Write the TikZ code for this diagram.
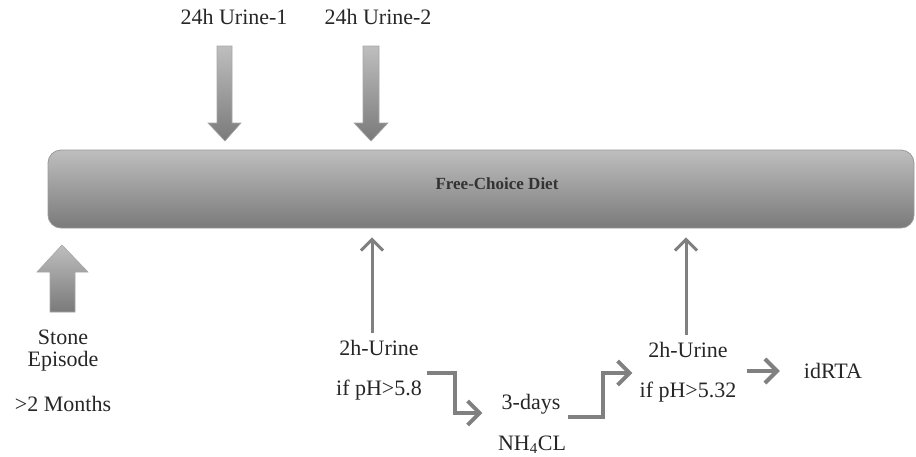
\documentclass[tikz,border=0pt]{standalone}
\usepackage{fontspec}
\setmainfont{Liberation Serif}
\usetikzlibrary{arrows.meta}
\definecolor{arrgray}{RGB}{128,128,128}
\definecolor{barlight}{RGB}{190,190,190}
\definecolor{bardark}{RGB}{122,122,122}
\tikzset{
  lbl/.style={font=\fontsize{22}{24}\selectfont, inner sep=0pt, text=black!85},
  blockarr/.style={draw=black!35, line width=0.6pt, top color=barlight, bottom color=bardark},
  thinarr/.style={draw=arrgray, line width=3pt, -{Straight Barb[length=11pt,width=22pt]}},
  elbarr/.style={draw=arrgray, line width=4pt, -{Straight Barb[length=12pt,width=24pt]}}
}
\begin{document}
\begin{tikzpicture}[x=1pt,y=-1pt]
        \useasboundingbox (0,0) rectangle (916,456);

        % diet bar
        \node[draw=black!40, line width=0.8pt, rounded corners=13pt, minimum width=866pt, minimum height=78pt,
              top color=barlight, bottom color=bardark] (diet) at (481,189) {};
        \node[font=\bfseries\fontsize{17}{19}\selectfont, text=black!80] (dietlbl) at (497,184) {Free-Choice Diet};

        % 24h collections
        \node[lbl] (uA) at (234,17) {24h Urine-1};
        \node[lbl] (uB) at (378,17) {24h Urine-2};
        \draw[blockarr] (217,46)--(232,46)--(232,123)--(241,123)--(225,141)--(208,123)--(217,123)--cycle;
        \draw[blockarr] (363,46)--(379,46)--(379,123)--(388,123)--(371,141)--(354,123)--(363,123)--cycle;

        % stone episode
        \draw[blockarr] (62,245)--(88,272)--(75,272)--(75,312)--(50,312)--(50,272)--(37,272)--cycle;
        \node[lbl] (stone) at (63,337) {Stone};
        \node[lbl] (episode) at (63,361) {Episode};
        \node[lbl] (months) at (63,404) {>2 Months};

        % first 2h urine
        \node[lbl] (twohA) at (379,348) {2h-Urine};
        \node[lbl] (phA) at (379,390) {if pH>5.8};
        \draw[thinarr, shorten >=9pt] ([shift={(-7pt,7pt)}]twohA.north) -- ([xshift=-7pt]twohA.north |- diet.south);

        % ammonium chloride load
        \node[lbl] (days) at (531,404) {3-days};
        \node[lbl] (nh) at (532,445) {NH\textsubscript{\fontsize{15}{15}\selectfont 4}CL};
        \draw[elbarr] ([shift={(5pt,17pt)}]phA.east) -- ++(28,0) |- ([shift={(-19pt,-9pt)}]days.west);

        % second 2h urine
        \node[lbl] (twohB) at (688,350) {2h-Urine};
        \node[lbl] (phB) at (688,392) {if pH>5.32};
        \draw[thinarr, shorten >=9pt] ([shift={(-2pt,7pt)}]twohB.north) -- ([xshift=-2pt]twohB.north |- diet.south);
        \draw[elbarr] ([shift={(7pt,-13pt)}]days.east) -- ++(35,0) |- ([shift={(-7pt,19pt)}]phB.west);

        % result
        \node[lbl] (rta) at (833,371) {idRTA};
        \draw[elbarr] ([xshift=-57pt]rta.west) -- ([xshift=-24pt]rta.west);
    \end{tikzpicture}
\end{document}
